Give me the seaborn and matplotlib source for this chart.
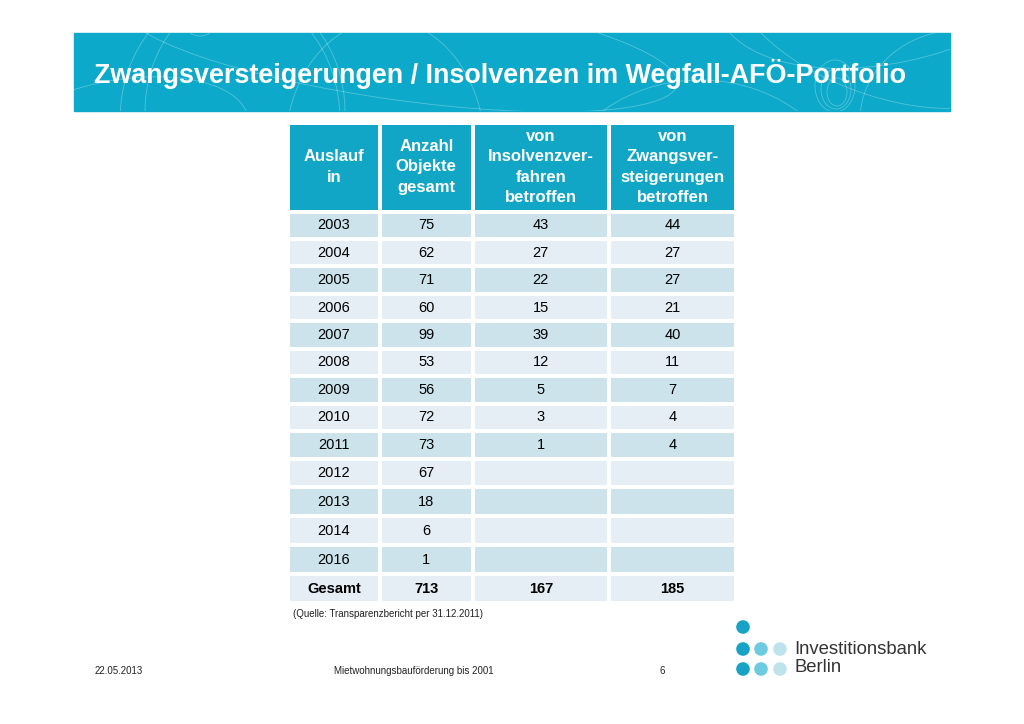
import numpy as np
import pandas as pd
import seaborn as sns
import matplotlib
matplotlib.use("Agg")
import matplotlib.pyplot as plt
from matplotlib.colors import ListedColormap
from matplotlib.patches import Rectangle, Circle, Ellipse

# table data
years = ["2003", "2004", "2005", "2006", "2007", "2008", "2009",
         "2010", "2011", "2012", "2013", "2014", "2016"]
total_objects = [75, 62, 71, 60, 99, 53, 56, 72, 73, 67, 18, 6, 1]
insolvency = [43, 27, 22, 15, 39, 12, 5, 3, 1, None, None, None, None]
foreclosure = [44, 27, 27, 21, 40, 11, 7, 4, 4, None, None, None, None]
totals = ["Gesamt", 713, 167, 185]

headers = ["Auslauf\nin", "Anzahl\nObjekte\ngesamt",
           "von\nInsolvenzver-\nfahren\nbetroffen",
           "von\nZwangsver-\nsteigerungen\nbetroffen"]

title = "Zwangsversteigerungen / Insolvenzen im Wegfall-AFÖ-Portfolio"
source = "(Quelle: Transparenzbericht per 31.12.2011)"
footer_date = "22.05.2013"
footer_mid = "Mietwohnungsbauförderung bis 2001"
footer_page = "6"

TEAL = "#0ca9ca"
HEAD = "#12a6c6"
DARK = "#cde3ec"
LIGHT = "#e5eef4"

W, H = 1024, 724


def rect(x0, y0, x1, y1):
    return [x0 / W, 1 - y1 / H, (x1 - x0) / W, (y1 - y0) / H]


def cell(v):
    return "" if v is None else str(v)


def main():
    sns.set_style("white")
    plt.rcParams["font.family"] = ["Liberation Sans", "DejaVu Sans"]

    df = pd.DataFrame({
        "Auslauf": years + [totals[0]],
        "Anzahl": [cell(v) for v in total_objects] + [str(totals[1])],
        "Insolvenz": [cell(v) for v in insolvency] + [str(totals[2])],
        "Zwang": [cell(v) for v in foreclosure] + [str(totals[3])],
    })

    fig = plt.figure(figsize=(10.24, 7.24), dpi=100)
    bg = fig.add_axes([0, 0, 1, 1])
    bg.set_xlim(0, W)
    bg.set_ylim(H, 0)
    bg.axis("off")

    # banner with the thin decorative swirls
    banner = Rectangle((74, 33), 876, 78, color=TEAL, zorder=1)
    bg.add_patch(banner)
    deco = [((230, 120), 220, 260, 0), ((245, 112), 200, 240, 0),
            ((200, 18), 36, 36, 0), ((385, 150), 200, 260, 0),
            ((400, 45), 560, 110, 8), ((120, 140), 260, 120, -10),
            ((835, 86), 40, 52, 0), ((836, 89), 30, 40, 0), ((837, 92), 20, 28, 0),
            ((900, -40), 380, 200, -15), ((880, 25), 300, 140, 20),
            ((700, 210), 300, 260, 0), ((960, 120), 200, 180, 0)]
    for (cx, cy), w, h, ang in deco:
        e = Ellipse((cx, cy), w, h, angle=ang, fill=False, ec="white",
                    lw=0.6, alpha=0.3, zorder=2)
        bg.add_patch(e)
        e.set_clip_path(banner)

    t = bg.text(94, 74, title, color="white", fontweight="bold", fontsize=20,
                va="center", ha="left", zorder=3)
    fig.canvas.draw()
    tw = t.get_window_extent().width
    t.set_fontsize(20 * 810 / tw)

    # table: one header cell + two body blocks per column
    col_edges = [288, 380, 472.5, 609, 736]
    head_top, head_bot = 122.5, 211.5
    groups = [(0, 9, 211.5, 458.5), (9, 14, 458.5, 603)]
    cols = list(df.columns)

    for j, col in enumerate(cols):
        x0, x1 = col_edges[j], col_edges[j + 1]
        hax = fig.add_axes(rect(x0, head_top, x1, head_bot))
        sns.heatmap(pd.DataFrame([[0]]), ax=hax, cmap=ListedColormap([HEAD]),
                    cbar=False, annot=np.array([[headers[j]]]), fmt="",
                    annot_kws=dict(color="white", fontsize=12, fontweight="bold",
                                   linespacing=1.42),
                    linewidths=1.5, linecolor="white",
                    xticklabels=False, yticklabels=False)

        for a, b, y0, y1 in groups:
            bax = fig.add_axes(rect(x0, y0, x1, y1))
            shade = pd.DataFrame({"c": [i % 2 for i in range(a, b)]})
            labels = df[col].iloc[a:b].to_numpy().reshape(-1, 1)
            sns.heatmap(shade, ax=bax, cmap=ListedColormap([DARK, LIGHT]),
                        vmin=0, vmax=1, cbar=False, annot=labels, fmt="",
                        annot_kws=dict(color="black", fontsize=10.5),
                        linewidths=1.5, linecolor="white",
                        xticklabels=False, yticklabels=False)
            if b == len(df):
                bax.texts[-1].set_fontweight("bold")

    bg.text(293, 614, source, fontsize=7, va="center", color="#222222")

    # footer
    bg.text(95, 671, footer_date, fontsize=7, va="center", color="#222222")
    bg.text(414, 671, footer_mid, fontsize=7, va="center", ha="center", color="#222222")
    bg.text(662, 671, footer_page, fontsize=7, va="center", ha="center", color="#222222")

    # logo
    dots = [(743, 627, "#17a3c6"), (743, 649, "#17a3c6"), (761, 649, "#6ccbe0"),
            (780, 649, "#bfe3ec"), (743, 669, "#17a3c6"), (761, 669, "#6ccbe0"),
            (780, 669, "#bfe3ec")]
    for x, y, c in dots:
        bg.add_patch(Circle((x, y), 6.8, color=c, lw=0))
    bg.text(794, 649, "Investitionsbank", fontsize=13.3, va="center", color="#333333")
    bg.text(794, 668, "Berlin", fontsize=13.3, va="center", color="#333333")

    fig.savefig("out.png", dpi=100)


if __name__ == "__main__":
    main()
